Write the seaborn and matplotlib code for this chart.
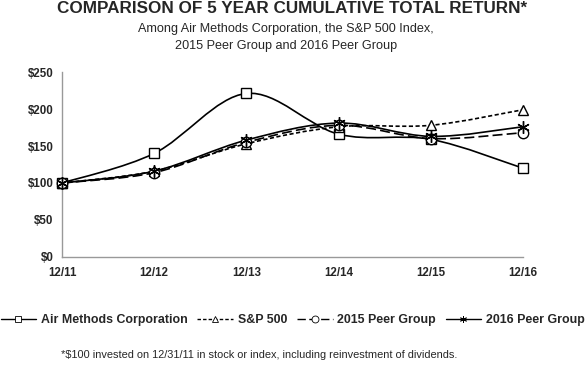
import numpy as np
import matplotlib
matplotlib.use("Agg")
import matplotlib.pyplot as plt
from matplotlib.path import Path
from matplotlib.patches import PathPatch
from matplotlib.lines import Line2D
import seaborn as sns

years = ["12/11", "12/12", "12/13", "12/14", "12/15", "12/16"]
air_methods = [100, 140, 221, 166, 159, 120]
sp500 = [100, 116, 153, 176, 178, 199]
peer_2015 = [100, 114, 155, 178, 160, 168]
peer_2016 = [100, 116, 158, 181, 163, 176]

sns.set_theme(style="white")
plt.rcParams["font.family"] = ["Liberation Sans", "DejaVu Sans"]

fig = plt.figure(figsize=(5.85, 3.76), dpi=100)
ax = fig.add_axes([0.106, 0.3165, 0.788, 0.492])

series = [
    ("Air Methods Corporation", air_methods, "-", "s", 7.5),
    ("S&P 500", sp500, (0, (2.5, 1.5)), "^", 7.5),
    ("2015 Peer Group", peer_2015, (0, (6, 2.5)), "o", 7.5),
    ("2016 Peer Group", peer_2016, "-", (6, 2, 0), 9),
]

xs = np.arange(len(years))


def smooth_path(y):
    # excel-style smoothed line: catmull-rom segments as cubic beziers
    pts = list(zip(xs, y))
    verts = [pts[0]]
    codes = [Path.MOVETO]
    n = len(pts)
    for i in range(n - 1):
        p0 = pts[max(i - 1, 0)]
        p1 = pts[i]
        p2 = pts[i + 1]
        p3 = pts[min(i + 2, n - 1)]
        c1 = (p1[0] + (p2[0] - p0[0]) / 6, p1[1] + (p2[1] - p0[1]) / 6)
        c2 = (p2[0] - (p3[0] - p1[0]) / 6, p2[1] - (p3[1] - p1[1]) / 6)
        verts += [c1, c2, p2]
        codes += [Path.CURVE4] * 3
    return Path(verts, codes)


handles = []
for name, vals, ls, mk, ms in series:
    ax.add_patch(PathPatch(smooth_path(vals), facecolor="none", edgecolor="black",
                           lw=1.2, linestyle=ls, zorder=2, clip_on=False))
    sns.lineplot(x=xs, y=vals, ax=ax, marker=mk, linestyle="none", markersize=ms,
                 markerfacecolor="white", markeredgecolor="black",
                 markeredgewidth=1.0, color="black", zorder=3, clip_on=False)
    handles.append(Line2D([], [], color="black", lw=1.0, linestyle=ls, marker=mk,
                          markersize=5, markerfacecolor="white",
                          markeredgecolor="black", markeredgewidth=0.6, label=name))

ax.set_xlim(0, 5)
ax.set_ylim(0, 250)
ax.set_xticks(xs)
ax.set_xticklabels(years)
ax.set_yticks([0, 50, 100, 150, 200, 250])
ax.set_yticklabels(["$" + str(v) for v in [0, 50, 100, 150, 200, 250]])
for lab in ax.get_xticklabels() + ax.get_yticklabels():
    lab.set_fontweight("bold")
    lab.set_fontsize(8.3)
ax.tick_params(axis="both", length=3, width=0.8, color="#999999", pad=3, direction="out")
ax.tick_params(axis="x", pad=4)
for s in ["top", "right"]:
    ax.spines[s].set_visible(False)
for s in ["left", "bottom"]:
    ax.spines[s].set_color("#999999")
    ax.spines[s].set_linewidth(1.0)
ax.set_xlabel("")
ax.set_ylabel("")

fig.text(0.5, 0.965, "COMPARISON OF 5 YEAR CUMULATIVE TOTAL RETURN*", ha="center",
         va="baseline", fontsize=12.3, fontweight="bold")
fig.text(0.489, 0.915, "Among Air Methods Corporation, the S&P 500 Index,", ha="center",
         va="baseline", fontsize=9.1)
fig.text(0.489, 0.87, "2015 Peer Group and 2016 Peer Group", ha="center",
         va="baseline", fontsize=9.1)

leg = fig.legend(handles=handles, loc="center", bbox_to_anchor=(0.5, 0.149), ncol=4,
                 frameon=False, handlelength=2.9, handletextpad=0.35, columnspacing=0.8,
                 borderaxespad=0, borderpad=0, prop={"weight": "bold", "size": 8.9})

fig.text(0.443, 0.056, "*$100 invested on 12/31/11 in stock or index, including reinvestment of dividends.",
         ha="center", va="center", fontsize=7.9)

fig.savefig("out.png", dpi=100)
